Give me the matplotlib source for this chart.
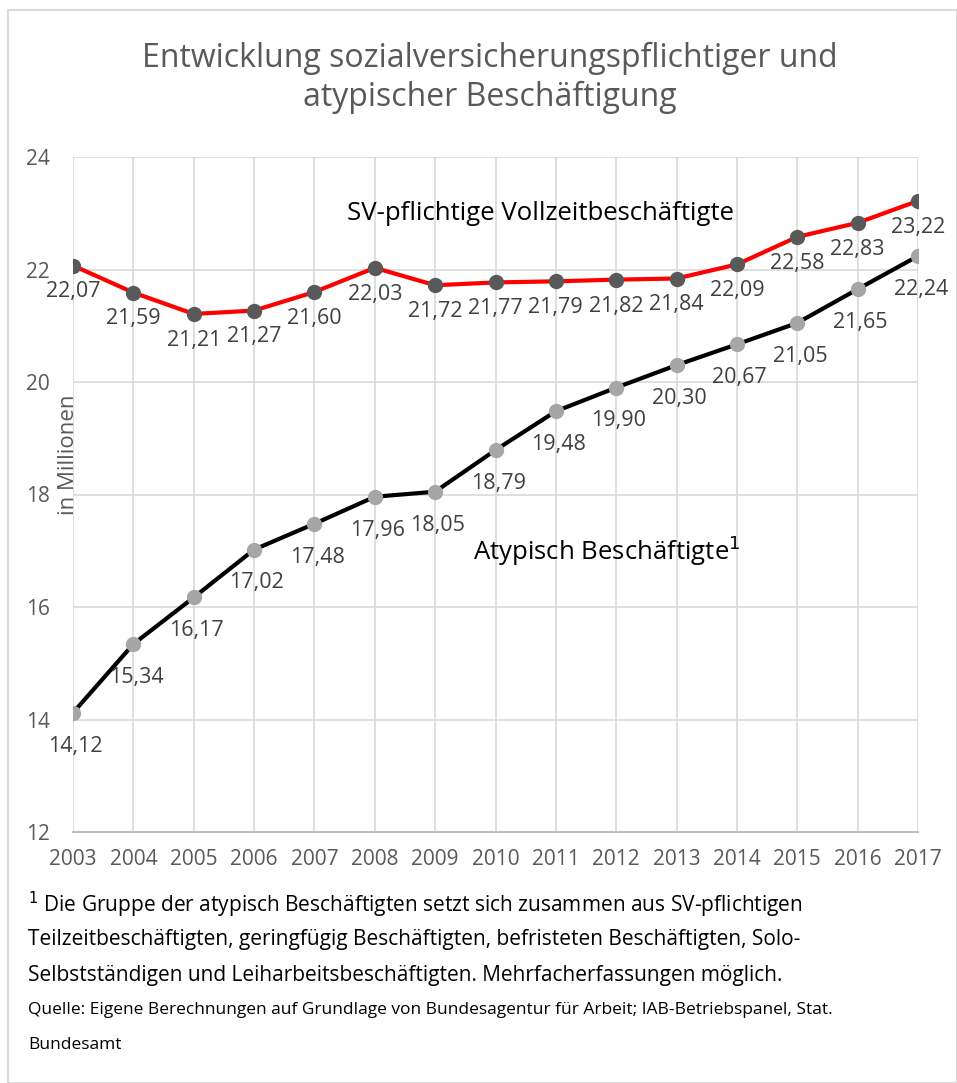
import matplotlib.pyplot as plt
from matplotlib.patches import Rectangle

years = list(range(2003, 2018))
vollzeit = [22.07, 21.59, 21.21, 21.27, 21.60, 22.03, 21.72, 21.77, 21.79,
            21.82, 21.84, 22.09, 22.58, 22.83, 23.22]
atypisch = [14.12, 15.34, 16.17, 17.02, 17.48, 17.96, 18.05, 18.79, 19.48,
            19.90, 20.30, 20.67, 21.05, 21.65, 22.24]
y_ticks = [12, 14, 16, 18, 20, 22, 24]

GRAY = '#595959'
FONT = ['Open Sans', 'DejaVu Sans']

plt.rcParams['font.family'] = FONT

fig = plt.figure(figsize=(9.57, 10.83), dpi=100)
ax = fig.add_axes([73 / 957, 1 - 832 / 1083, (918 - 73) / 957, (832 - 157) / 1083])

ax.plot(years, vollzeit, color='#ff0000', lw=3, marker='o', ms=10,
        mfc='#595959', mec='#595959', zorder=3)
ax.plot(years, atypisch, color='black', lw=3, marker='o', ms=10,
        mfc='#a6a6a6', mec='#a6a6a6', zorder=3)

for x, v in zip(years, vollzeit):
    ax.annotate(f'{v:.2f}'.replace('.', ','), (x, v), xytext=(0, -19),
                textcoords='offset points', ha='center', va='center',
                fontsize=15.5, color='#404040')
for x, v in zip(years, atypisch):
    ax.annotate(f'{v:.2f}'.replace('.', ','), (x, v), xytext=(2, -24),
                textcoords='offset points', ha='center', va='center',
                fontsize=15.5, color='#404040')

ax.text(2010.75, 23.0, 'SV-pflichtige Vollzeitbeschäftigte', ha='center',
        va='center', fontsize=18.5, color='black')
ax.text(2011.85, 17.0, 'Atypisch Beschäftigte$^1$', ha='center',
        va='center', fontsize=18.5, color='black')

ax.set_xlim(2003, 2017)
ax.set_ylim(12, 24)
ax.set_xticks(years)
ax.set_yticks(y_ticks)
ax.tick_params(length=0, labelsize=15, colors=GRAY)
ax.tick_params(axis='x', pad=12)
ax.tick_params(axis='y', pad=16.5)
ax.grid(True, color='#d9d9d9', lw=1.2)
ax.set_axisbelow(True)
for side in ['top', 'right', 'left']:
    ax.spines[side].set_visible(False)
ax.spines['bottom'].set_color('#bfbfbf')
ax.spines['bottom'].set_linewidth(1.5)

fig.text(0.512, 1 - 78 / 1083,
         'Entwicklung sozialversicherungspflichtiger und\natypischer Beschäftigung',
         ha='center', va='center', fontsize=23, color=GRAY, linespacing=1.25)
fig.text(68 / 957, 1 - 455 / 1083, 'in Millionen', rotation=90, ha='center',
         va='center', fontsize=16, color=GRAY, zorder=5)

foot = [
    ('$^1$ Die Gruppe der atypisch Beschäftigten setzt sich zusammen aus SV-pflichtigen', 905),
    ('Teilzeitbeschäftigten, geringfügig Beschäftigten, befristeten Beschäftigten, Solo-', 940),
    ('Selbstständigen und Leiharbeitsbeschäftigten. Mehrfacherfassungen möglich.', 975),
]
for txt, y in foot:
    fig.text(28 / 957, 1 - y / 1083, txt, ha='left', va='center',
             fontsize=15, color='black')
fig.text(28 / 957, 1 - 1010 / 1083,
         'Quelle: Eigene Berechnungen auf Grundlage von Bundesagentur für Arbeit; '
         'IAB-Betriebspanel, Stat.', ha='left', va='center', fontsize=12.5,
         color='black')
fig.text(28 / 957, 1 - 1045 / 1083, 'Bundesamt', ha='left', va='center',
         fontsize=12.5, color='black')

fig.patches.append(Rectangle((8 / 957, 0.0), 1 - 8 / 957, 1 - 10 / 1083,
                             transform=fig.transFigure, fill=False,
                             ec='#d9d9d9', lw=1.5))

fig.savefig('out.png', dpi=100)
